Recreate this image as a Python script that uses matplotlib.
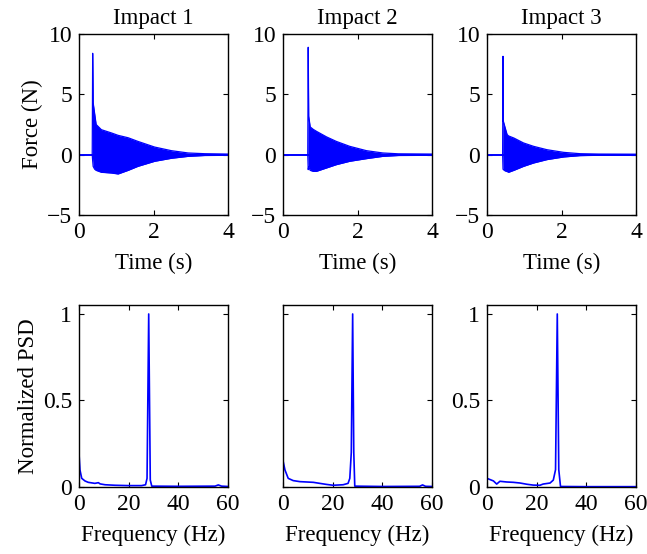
import matplotlib
matplotlib.use("Agg")
import matplotlib.pyplot as plt

plt.rcParams['font.family'] = ['Liberation Serif', 'DejaVu Serif']
plt.rcParams['mathtext.fontset'] = 'stix'

# ---------------- data ----------------
titles = ["Impact 1", "Impact 2", "Impact 3"]
time_ticks = [0, 2, 4]
force_ticks = [-5, 0, 5, 10]
freq_ticks = [0, 20, 40, 60]
psd_ticks = [0, 0.5, 1]
psd_ticklabels = ["0", "0.5", "1"]

# envelope of the force signal (time s, upper N, lower N)
t1 = [0.355, 0.367, 0.38, 0.42, 0.46, 0.60, 0.87, 1.05, 1.32, 1.58, 2.03, 2.48, 2.93, 3.37, 4.0]
up1 = [0.0, 8.4, 4.3, 3.4, 2.5, 2.07, 1.8, 1.6, 1.4, 1.1, 0.63, 0.33, 0.14, 0.08, 0.05]
lo1 = [0.0, -0.5, -0.97, -1.2, -1.3, -1.46, -1.52, -1.6, -1.3, -0.97, -0.55, -0.3, -0.14, -0.07, -0.05]

t2 = [0.665, 0.677, 0.69, 0.73, 0.81, 0.90, 1.17, 1.43, 1.79, 2.24, 2.68, 3.1, 4.0]
up2 = [0.0, 8.9, 3.2, 2.3, 2.1, 1.93, 1.47, 1.1, 0.69, 0.33, 0.14, 0.07, 0.05]
lo2 = [0.0, -1.24, -1.0, -1.3, -1.38, -1.38, -1.1, -0.83, -0.55, -0.33, -0.14, -0.07, -0.05]

t3 = [0.42, 0.43, 0.44, 0.49, 0.54, 0.58, 0.72, 0.98, 1.25, 1.61, 2.06, 2.5, 3.0, 4.0]
up3 = [0.0, 8.15, 2.76, 2.2, 1.66, 1.55, 1.38, 0.97, 0.69, 0.41, 0.19, 0.08, 0.05, 0.04]
lo3 = [0.0, -1.2, -1.24, -1.35, -1.4, -1.46, -1.3, -0.97, -0.69, -0.41, -0.19, -0.08, -0.05, -0.04]

# normalized PSD (frequency Hz, value)
f1 = [0, 0.4, 1.1, 2.4, 3.7, 6.4, 7.8, 8.5, 10.5, 14.5, 20, 25.2, 26.8, 27.4, 28.07, 28.7, 29.3, 40, 54.8, 56.1, 57.4, 60]
p1 = [0.195, 0.098, 0.05, 0.035, 0.027, 0.021, 0.025, 0.018, 0.013, 0.01, 0.008, 0.008, 0.013, 0.05, 1.0, 0.04, 0.005, 0.004, 0.005, 0.012, 0.005, 0.003]

f2 = [0, 0.8, 2.1, 4.1, 6.8, 9.5, 12.2, 14.8, 17.5, 20.2, 24.2, 26.2, 26.9, 27.5, 28.05, 28.5, 28.9, 40, 55.0, 56.2, 57.4, 60]
p2 = [0.152, 0.098, 0.05, 0.037, 0.031, 0.029, 0.027, 0.021, 0.015, 0.010, 0.013, 0.021, 0.05, 0.2, 1.0, 0.2, 0.005, 0.003, 0.004, 0.012, 0.004, 0.003]

f3 = [0, 2.6, 3.9, 5.2, 7.9, 10.6, 13.3, 16, 18.6, 21.3, 22.6, 25.4, 26.7, 27.6, 28.3, 28.9, 29.6, 40, 60]
p3 = [0.05, 0.035, 0.017, 0.033, 0.029, 0.027, 0.023, 0.016, 0.011, 0.010, 0.017, 0.023, 0.04, 0.1, 1.0, 0.1, 0.003, 0.002, 0.002]

env = [(t1, up1, lo1), (t2, up2, lo2), (t3, up3, lo3)]
psd = [(f1, p1), (f2, p2), (f3, p3)]

# ---------------- figure ----------------
W, H = 647, 554
fig = plt.figure(figsize=(W / 100, H / 100), dpi=100)
FS = 16.5
TFS = 17
BLUE = '#0000ff'

lefts = [79, 283, 487]
aw = 149
top_row = (34, 215)
bot_row = (305, 487)


def style(ax):
    ax.tick_params(direction='in', length=3.5, width=0.8, top=True, right=True,
                   labelsize=TFS, pad=5)
    for s in ax.spines.values():
        s.set_linewidth(1.0)


for i in range(3):
    x0 = lefts[i]
    # force
    ax = fig.add_axes([x0 / W, (H - top_row[1]) / H, aw / W, (top_row[1] - top_row[0]) / H])
    t, up, lo = env[i]
    ax.plot([0, 4], [0, 0], color=BLUE, lw=1.4)
    ax.fill_between(t, lo, up, color=BLUE, lw=0)
    ax.plot(t, up, color=BLUE, lw=0.9)
    ax.plot(t, lo, color=BLUE, lw=0.9)
    ax.set_xlim(0, 4)
    ax.set_ylim(-5, 10)
    ax.set_xticks(time_ticks)
    ax.set_yticks(force_ticks)
    ax.set_title(titles[i], fontsize=FS, pad=7)
    ax.set_xlabel("Time (s)", fontsize=FS, labelpad=7)
    if i == 0:
        ax.set_ylabel("Force (N)", fontsize=FS, labelpad=3)
    style(ax)

    # PSD
    ax2 = fig.add_axes([x0 / W, (H - bot_row[1]) / H, aw / W, (bot_row[1] - bot_row[0]) / H])
    f, p = psd[i]
    ax2.plot(f, p, color=BLUE, lw=1.2)
    ax2.set_xlim(0, 60)
    ax2.set_ylim(0, 1.052)
    ax2.set_xticks(freq_ticks)
    ax2.set_yticks(psd_ticks)
    if i == 1:
        ax2.set_yticklabels([])
    else:
        ax2.set_yticklabels(psd_ticklabels)
    ax2.set_xlabel("Frequency (Hz)", fontsize=FS, labelpad=7)
    if i == 0:
        ax2.set_ylabel("Normalized PSD", fontsize=FS, labelpad=3)
    style(ax2)

fig.savefig("out.png", dpi=100)
